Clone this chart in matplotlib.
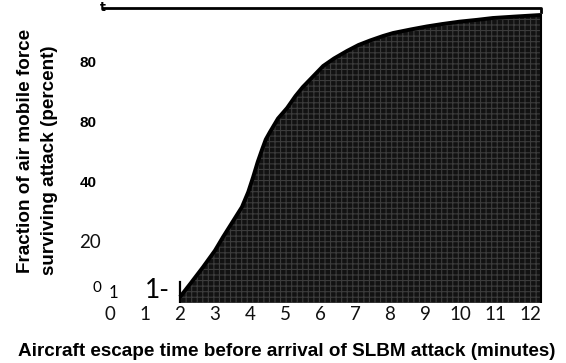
import matplotlib
matplotlib.use('Agg')
import matplotlib.pyplot as plt

# survival curve (minutes, percent)
minutes = [2.0, 2.3, 2.66, 3.0, 3.23, 3.5, 3.77, 3.95, 4.09, 4.22, 4.34, 4.45, 4.57, 4.8, 5.06, 5.3, 5.51, 5.8,
           6.09, 6.4, 6.77, 7.1, 7.43, 7.8, 8.09, 8.6, 9.06, 9.5, 10.0, 10.5, 10.94, 11.6, 12.3]
survive = [2, 6.5, 12, 17.5, 22, 27, 32, 37, 42, 47, 51, 54.5, 57, 61.5, 65, 69, 72, 75.5,
           79, 81.5, 84, 86, 87.5, 89, 90, 91.2, 92.2, 93, 93.8, 94.4, 95, 95.5, 96]

xticks = list(range(0, 13))
ytick_vals = [80, 60, 40, 20]
ytick_text = ['80', '80', '40', '20']
ytick_bold = [True, True, True, False]

plt.rcParams['hatch.color'] = '#3c3c3c'
plt.rcParams['hatch.linewidth'] = 0.8

fig = plt.figure(figsize=(5.66, 3.63), dpi=100)
W, H = 566.0, 363.0
ax = fig.add_axes([95 / W, (H - 303) / H, 450 / W, 303 / H])
ax.set_xlim(-15 / 35.0, 435 / 35.0)
ax.set_ylim(0, 101)
for s in ax.spines.values():
    s.set_visible(False)
ax.set_yticks([])
ax.set_xticks(xticks)
ax.set_xticklabels([str(t) for t in xticks], fontsize=13.5, family='Lato', color='#111111')
ax.tick_params(axis='x', length=0, pad=2)

# dark textured area under the curve
ax.fill_between(minutes, 0, survive, facecolor='#121212', hatch='+++', linewidth=0)
ax.plot(minutes, survive, color='black', lw=2.8, solid_capstyle='butt', solid_joinstyle='round')
ax.plot([minutes[-1], minutes[-1]], [0, survive[-1]], color='black', lw=1.5)
ax.plot([2, 2], [0, 7], color='black', lw=1.6)

# bracket line at the top
ax.plot([-0.2, 12.3, 12.3], [98.3, 98.3, 97], color='black', lw=2, clip_on=False)
ax.text(-0.2, 98.6, 't', fontsize=9, ha='center', va='center', fontweight='bold')

for v, t, b in zip(ytick_vals, ytick_text, ytick_bold):
    if b:
        ax.text(-0.63, v, t, ha='center', va='center', fontsize=11,
                fontweight='bold', family='Liberation Sans', clip_on=False)
    else:
        ax.text(-0.57, v, t, ha='center', va='center', fontsize=13.5,
                family='Lato', color='#111111', clip_on=False)

ax.text(-0.37, 5, '0', ha='center', va='center', fontsize=11, family='Lato')
ax.text(0.09, 3.3, '1', ha='center', va='center', fontsize=12, family='Lato')
ax.text(1.35, 4.3, '1-', ha='center', va='center', fontsize=19, family='Lato')

fig.text(26 / W, 1 - 151 / H, 'Fraction of air mobile force', rotation=90,
         ha='center', va='center', fontsize=13.6, fontweight='bold', family='Liberation Sans')
fig.text(50 / W, 1 - 160 / H, 'surviving attack (percent)', rotation=90,
         ha='center', va='center', fontsize=13.6, fontweight='bold', family='Liberation Sans')
fig.text(287 / W, 1 - 352 / H, 'Aircraft escape time before arrival of SLBM attack (minutes)',
         ha='center', va='center', fontsize=13.6, fontweight='bold', family='Liberation Sans')

fig.savefig('out.png', dpi=100)
